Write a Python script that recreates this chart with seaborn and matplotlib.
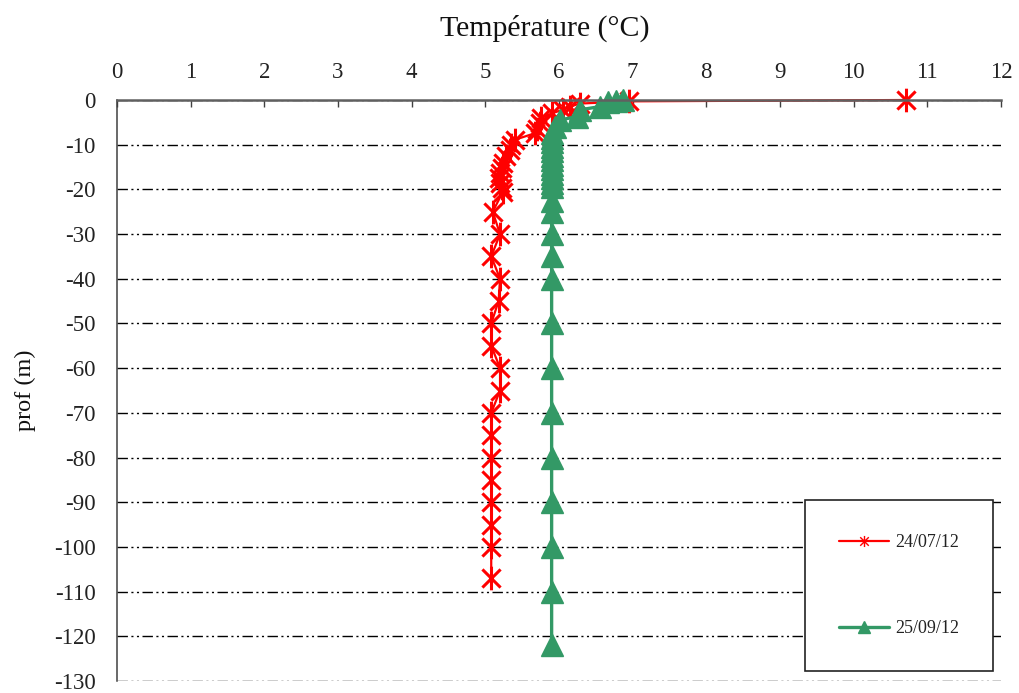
import matplotlib
matplotlib.use('Agg')
import matplotlib.pyplot as plt
from matplotlib.path import Path
import seaborn as sns

# temperature profiles (depth in m, temperature in degC)
depth_0724 = [0, -0.3, -0.8, -1.5, -2.2, -3, -4, -5.2, -6.5, -7.4, -8.9, -10,
              -11.2, -12.5, -14.2, -15.3, -16.4, -17.5, -18.6, -19.6, -20.5,
              -25, -30, -35, -40, -45, -50, -55, -60, -65, -70, -75, -80, -85,
              -90, -95, -100, -107]
temp_0724 = [10.71, 6.95, 6.28, 6.15, 6.05, 5.9, 5.76, 5.74, 5.7, 5.68, 5.4, 5.35,
             5.33, 5.28, 5.24, 5.22, 5.2, 5.19, 5.2, 5.22, 5.24,
             5.1, 5.2, 5.08, 5.2, 5.18, 5.08, 5.08, 5.2, 5.2, 5.08, 5.08, 5.08, 5.08,
             5.08, 5.08, 5.08, 5.08]

depth_2509 = [0, -0.2, -0.4, -1.5, -2.2, -3.7, -4.5, -6, -7.4, -8.5, -9.5, -10.5,
              -11.5, -12.5, -13.5, -14.5, -15.5, -16.5, -17.5, -18.5, -19.5,
              -22.5, -25, -30, -35, -40, -50, -60, -70, -80, -90, -100, -110, -122]
temp_2509 = [6.87, 6.77, 6.66, 6.55, 6.28, 6.24, 6.01, 5.94, 5.9, 5.9, 5.9, 5.9,
             5.9, 5.9, 5.9, 5.9, 5.9, 5.9, 5.9, 5.9, 5.9,
             5.9, 5.9, 5.9, 5.9, 5.9, 5.9, 5.9, 5.9, 5.9, 5.9, 5.9, 5.9, 5.9]

labels = ['24/07/12', '25/09/12']
x_ticks = list(range(0, 13))
y_ticks = list(range(-130, 1, 10))

sns.set_style('white')
plt.rcParams['font.family'] = ['Liberation Serif', 'DejaVu Serif']
plt.rcParams['axes.unicode_minus'] = False
plt.rcParams['lines.scale_dashes'] = False

# excel-like star marker (x with a vertical bar)
star = Path([(-1, -1), (1, 1), (-1, 1), (1, -1), (0, -1.3), (0, 1.3)],
            [Path.MOVETO, Path.LINETO, Path.MOVETO, Path.LINETO, Path.MOVETO, Path.LINETO])

fig, ax = plt.subplots(figsize=(10.2, 6.93), dpi=100)
fig.subplots_adjust(left=117/1020, right=1001/1020, top=1-100/693, bottom=1-681/693)

sns.lineplot(x=temp_0724, y=depth_0724, sort=False, estimator=None, ax=ax,
             color='#FF0000', lw=1.6, marker=star, ms=17, mew=2.2, mec='#FF0000',
             label=labels[0], clip_on=False)
sns.lineplot(x=temp_2509, y=depth_2509, sort=False, estimator=None, ax=ax,
             color='#339966', lw=2.4, marker='^', ms=16, mew=1, mec='#339966',
             label=labels[1], clip_on=False)

ax.set_xlim(0, 12)
ax.set_ylim(-130, 0)
ax.xaxis.tick_top()
ax.set_xticks(x_ticks)
ax.set_yticks(y_ticks)
ax.tick_params(axis='x', direction='in', length=5, width=1, pad=12,
               labelsize=16.5, color='#404040', labelcolor='#222222')
ax.tick_params(axis='y', direction='out', length=6.5, width=1, pad=9,
               labelsize=16.5, color='#404040', labelcolor='#222222')

for side in ['right', 'bottom']:
    ax.spines[side].set_visible(False)
ax.spines['top'].set_color('#606060')
ax.spines['top'].set_linewidth(1.8)
ax.spines['left'].set_color('#404040')
ax.spines['left'].set_linewidth(1.1)

ax.grid(False)
ax.yaxis.grid(True, linestyle=(0, (7.5, 2.5, 1.5, 2.5, 1.5, 2.5)),
              color='black', linewidth=1.0)
ax.set_axisbelow(True)

ax.set_xlabel('Température (°C)', fontsize=21.5, color='#111111')
ax.xaxis.set_label_position('top')
ax.xaxis.set_label_coords(0.484, 1.124)
ax.xaxis.label.set_va('center')
ax.set_ylabel('prof (m)', fontsize=17.5, color='#111111')
ax.yaxis.set_label_coords(-0.104, 0.5)
ax.yaxis.label.set_va('center')

leg = ax.legend(loc='upper left', bbox_to_anchor=(805/1020, 1-500/693),
                bbox_transform=fig.transFigure, frameon=True, fancybox=False,
                edgecolor='#222222', framealpha=1, fontsize=13, borderpad=1.9,
                labelspacing=3.8, handlelength=2.75, handletextpad=0.33,
                borderaxespad=0)
leg.get_frame().set_linewidth(1.2)
for h in leg.legend_handles:
    h.set_markersize(8)
    h.set_markeredgewidth(1)
for t in leg.get_texts():
    t.set_color('#222222')

plt.savefig('out.png', dpi=100)
